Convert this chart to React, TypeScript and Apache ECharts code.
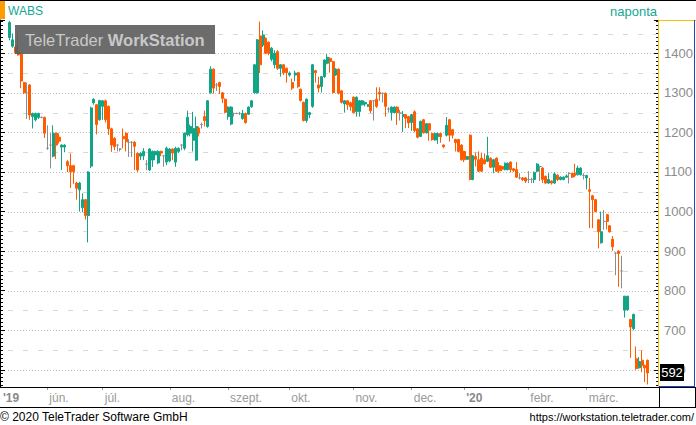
import React, { useEffect, useRef } from 'react';
import * as echarts from 'echarts';

// [open, close, low, high] per trading day, grouped by month
const MAY = [
  [1440, 1478, 1433, 1482], [1418, 1434, 1414, 1450], [1416, 1402, 1398, 1418], [1403, 1396, 1394, 1450],
  [1398, 1330, 1312, 1402], [1326, 1300, 1297, 1328], [1300, 1300, 1234, 1326], [1320, 1244, 1232, 1322],
  [1240, 1248, 1210, 1250], [1232, 1248, 1228, 1250], [1238, 1248, 1234, 1250], [1238, 1238, 1236, 1240],
  [1238, 1198, 1186, 1240],
];
const JUN = [
  [1160, 1160, 1156, 1218], [1168, 1168, 1109, 1198], [1140, 1198, 1137, 1218], [1198, 1168, 1133, 1200],
  [1188, 1178, 1172, 1198], [1163, 1168, 1105, 1170], [1163, 1168, 1150, 1170], [1126, 1116, 1100, 1130],
  [1116, 1101, 1060, 1147], [1116, 1101, 1070, 1118], [1072, 1059, 1030, 1075], [1055, 1072, 1000, 1075],
  [1010, 1030, 998, 1046], [1030, 990, 980, 1032], [990, 1100, 922, 1102], [1115, 1262, 1110, 1265],
  [1275, 1284, 1270, 1286], [1270, 1220, 1195, 1272], [1232, 1281, 1230, 1282],
];
const JUL = [
  [1266, 1280, 1232, 1282], [1280, 1232, 1225, 1283], [1266, 1209, 1194, 1268], [1209, 1168, 1151, 1212],
  [1185, 1164, 1155, 1188], [1168, 1168, 1152, 1170], [1158, 1158, 1152, 1160], [1190, 1184, 1160, 1210],
  [1198, 1177, 1152, 1200], [1175, 1175, 1138, 1183], [1175, 1175, 1138, 1178], [1175, 1165, 1105, 1178],
  [1147, 1105, 1100, 1150], [1140, 1147, 1130, 1150], [1141, 1152, 1130, 1160], [1120, 1120, 1105, 1130],
  [1105, 1158, 1103, 1160], [1130, 1152, 1113, 1154], [1143, 1152, 1130, 1154], [1123, 1152, 1120, 1155],
  [1152, 1148, 1140, 1154], [1141, 1141, 1113, 1143], [1125, 1160, 1117, 1164],
];
const AUG = [
  [1128, 1158, 1125, 1160], [1158, 1148, 1130, 1160], [1125, 1160, 1113, 1164], [1152, 1160, 1148, 1162],
  [1168, 1168, 1155, 1170], [1160, 1198, 1155, 1200], [1194, 1238, 1190, 1255], [1198, 1215, 1190, 1220],
  [1180, 1210, 1152, 1252], [1130, 1215, 1128, 1240], [1211, 1198, 1190, 1215], [1220, 1220, 1210, 1225],
  [1240, 1230, 1215, 1255], [1215, 1280, 1212, 1282], [1300, 1360, 1298, 1367], [1360, 1312, 1298, 1362],
  [1320, 1320, 1305, 1325], [1326, 1316, 1297, 1328], [1300, 1286, 1274, 1302], [1284, 1251, 1248, 1286],
];
const SEP = [
  [1240, 1264, 1232, 1266], [1221, 1264, 1218, 1266], [1248, 1248, 1240, 1250], [1248, 1248, 1246, 1250],
  [1248, 1248, 1244, 1252], [1235, 1248, 1232, 1257], [1248, 1225, 1222, 1250], [1246, 1264, 1244, 1266],
  [1265, 1280, 1262, 1282], [1300, 1371, 1298, 1373], [1300, 1434, 1298, 1436], [1444, 1371, 1350, 1480],
  [1421, 1446, 1416, 1458], [1438, 1400, 1398, 1440], [1428, 1400, 1395, 1430], [1385, 1413, 1380, 1416],
  [1371, 1400, 1362, 1408], [1404, 1362, 1358, 1408], [1362, 1371, 1341, 1373], [1371, 1351, 1345, 1373],
  [1362, 1351, 1326, 1364],
];
const OCT = [
  [1345, 1350, 1341, 1354], [1326, 1312, 1307, 1336], [1345, 1350, 1329, 1356], [1351, 1316, 1312, 1353],
  [1309, 1281, 1278, 1311], [1276, 1230, 1228, 1278], [1230, 1284, 1225, 1286], [1245, 1250, 1236, 1252],
  [1266, 1371, 1262, 1373], [1356, 1351, 1326, 1358], [1320, 1312, 1301, 1341], [1316, 1341, 1301, 1343],
  [1341, 1383, 1338, 1385], [1375, 1390, 1372, 1398], [1387, 1379, 1351, 1390], [1379, 1301, 1298, 1381],
  [1345, 1360, 1343, 1362], [1360, 1299, 1296, 1362], [1305, 1276, 1273, 1307], [1272, 1280, 1250, 1282],
  [1280, 1270, 1257, 1282], [1275, 1265, 1255, 1278],
];
const NOV = [
  [1289, 1250, 1248, 1291], [1253, 1289, 1240, 1291], [1253, 1280, 1240, 1282], [1270, 1280, 1268, 1282],
  [1272, 1276, 1266, 1278], [1266, 1270, 1264, 1272], [1280, 1255, 1249, 1282], [1280, 1280, 1230, 1282],
  [1284, 1266, 1262, 1314], [1301, 1297, 1280, 1314], [1299, 1299, 1276, 1300], [1299, 1266, 1240, 1301],
  [1259, 1259, 1250, 1264], [1250, 1264, 1230, 1266], [1250, 1264, 1248, 1266], [1264, 1250, 1219, 1266],
  [1249, 1249, 1230, 1257], [1240, 1245, 1201, 1254], [1245, 1236, 1211, 1247], [1240, 1224, 1211, 1242],
];
const DEC = [
  [1225, 1245, 1204, 1247], [1252, 1205, 1200, 1256], [1209, 1188, 1185, 1211], [1190, 1228, 1188, 1230],
  [1232, 1199, 1197, 1234], [1199, 1222, 1197, 1224], [1222, 1206, 1179, 1224], [1197, 1182, 1179, 1199],
  [1181, 1197, 1179, 1199], [1189, 1197, 1171, 1199], [1197, 1189, 1174, 1199], [1168, 1164, 1160, 1170],
  [1193, 1218, 1190, 1239], [1232, 1193, 1177, 1234], [1207, 1193, 1185, 1209], [1182, 1174, 1152, 1184],
  [1182, 1152, 1150, 1184], [1168, 1131, 1129, 1170],
];
const JAN = [
  [1152, 1131, 1125, 1154], [1132, 1139, 1131, 1141], [1193, 1081, 1079, 1195], [1081, 1141, 1079, 1143],
  [1139, 1132, 1114, 1149], [1131, 1102, 1100, 1152], [1135, 1102, 1100, 1149], [1131, 1121, 1119, 1147],
  [1127, 1141, 1125, 1189], [1135, 1112, 1110, 1137], [1112, 1131, 1097, 1133], [1135, 1102, 1100, 1137],
  [1116, 1103, 1097, 1125], [1114, 1107, 1102, 1116], [1106, 1122, 1104, 1124], [1106, 1122, 1104, 1124],
  [1125, 1106, 1099, 1127], [1108, 1104, 1100, 1110], [1106, 1087, 1085, 1125], [1085, 1085, 1081, 1097],
  [1085, 1081, 1077, 1087], [1085, 1077, 1072, 1087],
];
const FEB = [
  [1081, 1081, 1072, 1102], [1081, 1081, 1072, 1085], [1081, 1099, 1072, 1101], [1102, 1120, 1100, 1122],
  [1114, 1114, 1077, 1116], [1110, 1081, 1072, 1112], [1089, 1072, 1070, 1091], [1072, 1081, 1070, 1097],
  [1077, 1072, 1068, 1079], [1072, 1095, 1070, 1099], [1092, 1081, 1077, 1094], [1081, 1087, 1079, 1089],
  [1081, 1087, 1079, 1089], [1087, 1090, 1085, 1094], [1096, 1096, 1071, 1099], [1096, 1087, 1085, 1098],
  [1096, 1091, 1087, 1121], [1093, 1110, 1091, 1116], [1093, 1110, 1091, 1112], [1091, 1091, 1081, 1097],
];
const MAR = [
  [1085, 1091, 1056, 1093], [1055, 1051, 958, 1085], [1040, 1030, 958, 1042], [1030, 1000, 998, 1032],
  [979, 949, 907, 981], [921, 949, 919, 1000], [975, 975, 954, 1004], [992, 975, 955, 994],
  [964, 949, 947, 966], [930, 911, 901, 938], [895, 895, 839, 897], [900, 894, 810, 902],
  [850, 850, 806, 888], [751, 786, 732, 787], [752, 786, 749, 787], [727, 708, 630, 729],
  [704, 740, 700, 742], [628, 603, 600, 659], [605, 621, 603, 632], [624, 611, 594, 649],
  [611, 605, 569, 613], [624, 592, 563, 626],
];

const MONTH_DATA = [MAY, JUN, JUL, AUG, SEP, OCT, NOV, DEC, JAN, FEB, MAR];
const MONTH_LABELS = ["'19", 'jún.', 'júl.', 'aug.', 'szept.', 'okt.', 'nov.', 'dec.', "'20", 'febr.', 'márc.'];
const YEAR_LABELS = ["'19", "'20"];
const GRID_MAJOR = [600, 700, 800, 900, 1000, 1100, 1200, 1300, 1400];
const GRID_MINOR = [650, 750, 850, 950, 1050, 1150, 1250, 1350, 1450];
const Y_MIN = 556.5;
const Y_MAX = 1484.2;
const PAD_SLOTS = 3;
const LAST_PRICE = 592;
const SYMBOL = 'WABS';
const PERIOD = 'naponta';
const COPYRIGHT = '© 2020 TeleTrader Software GmbH';
const URL_TEXT = 'https://workstation.teletrader.com/';

const FONT = '"Liberation Sans", Arial, sans-serif';
const TEAL = '#11a487';
const ORANGE = '#ff5b00';
const DOJI = '#8c8c8c';
const TEAL_TEXT = '#14a693';

export default function App() {
  const ref = useRef<HTMLDivElement>(null);

  useEffect(() => {
    document.body.style.margin = '0';
    const chart = echarts.init(ref.current!, null, { renderer: 'svg' });

    const cats: string[] = [];
    const labelOf = new Map<string, string>();
    const candles: number[][] = [];
    MONTH_DATA.forEach((arr, m) => {
      arr.forEach((c, k) => {
        const id = `${m}-${k}`;
        cats.push(id);
        if (k === 0 && m > 0) labelOf.set(id, MONTH_LABELS[m]);
        candles.push(c);
      });
    });
    for (let p = 0; p < PAD_SLOTS; p++) cats.push(`pad-${p}`);

    const gridSeries = (values: number[], color: string, dash: number[]) => ({
      type: 'custom',
      silent: true,
      z: 1,
      clip: false,
      dimensions: ['x', 'y'],
      encode: { x: 0, y: 1 },
      data: values.map((v) => [0, v]),
      renderItem: (params: any, api: any) => {
        const y = Math.round(api.coord([0, api.value(1)])[1]) + 0.5;
        const cs = params.coordSys;
        return {
          type: 'line',
          shape: { x1: cs.x, y1: y, x2: cs.x + cs.width - 2, y2: y },
          style: { stroke: color, lineWidth: 1, lineDash: dash },
        };
      },
    });

    const isLabel = (_i: number, v: string) => labelOf.has(v);

    const option: any = {
      animation: false,
      grid: { left: 8, right: 37, top: 20, bottom: 38, containLabel: false },
      xAxis: {
        type: 'category',
        data: cats,
        boundaryGap: true,
        axisLine: { show: true, lineStyle: { color: '#000', width: 1 } },
        axisTick: { show: true, alignWithLabel: true, interval: isLabel, length: 3, lineStyle: { color: '#999' } },
        axisLabel: {
          interval: isLabel,
          align: 'left',
          margin: 5,
          formatter: (v: string) => {
            const t = labelOf.get(v) || '';
            return YEAR_LABELS.includes(t) ? `{y|${t}}` : `{m|${t}}`;
          },
          rich: {
            m: { fontSize: 12, color: '#9a9a9a', fontFamily: FONT, padding: [0, 0, 0, 2] },
            y: { fontSize: 12, fontWeight: 'bold', color: '#8a8a8a', fontFamily: FONT, padding: [0, 0, 0, 2] },
          },
        },
        splitLine: { show: false },
      },
      yAxis: [
        {
          type: 'value',
          position: 'right',
          min: Y_MIN,
          max: Y_MAX,
          splitNumber: 9,
          axisLine: { show: true, lineStyle: { color: '#f2c100', width: 1 } },
          axisTick: { show: true, inside: true, length: 4, lineStyle: { color: '#000' } },
          minorTick: { show: true, splitNumber: 10, length: 2, lineStyle: { color: '#000' } },
          axisLabel: {
            showMinLabel: false,
            showMaxLabel: false,
            formatter: (v: number) => String(v),
            color: '#8c8c8c',
            fontSize: 13,
            fontFamily: FONT,
            margin: 6,
          },
          splitLine: { show: false },
        },
        {
          type: 'value',
          position: 'left',
          offset: 8,
          min: Y_MIN,
          max: Y_MAX,
          splitNumber: 9,
          axisLine: { show: true, lineStyle: { color: '#000', width: 1 } },
          axisTick: { show: true, inside: true, length: 5, lineStyle: { color: '#000' } },
          minorTick: { show: true, splitNumber: 10, length: 3, lineStyle: { color: '#000' } },
          axisLabel: { show: false },
          splitLine: { show: false },
        },
      ],
      series: [
        gridSeries(GRID_MAJOR, '#bdbdbd', [1, 2]),
        gridSeries(GRID_MINOR, '#d8d8d8', [5, 10]),
        {
          type: 'candlestick',
          data: candles,
          barWidth: 2.5,
          z: 3,
          itemStyle: {
            color: TEAL,
            color0: ORANGE,
            borderColor: TEAL,
            borderColor0: ORANGE,
            borderColorDoji: DOJI,
            borderWidth: 1,
          },
        },
      ],
    };
    chart.setOption(option);

    const priceY = chart.convertToPixel({ yAxisIndex: 0 }, LAST_PRICE) as number;
    const Z = 100;
    chart.setOption({
      graphic: [
        { type: 'line', z: Z, shape: { x1: 0, y1: 0.5, x2: 696, y2: 0.5 }, style: { stroke: '#000', lineWidth: 1 } },
        { type: 'rect', z: Z, shape: { x: 0, y: 1, width: 5, height: 18 }, style: { fill: '#ff9c00' } },
        { type: 'text', z: Z, x: 8, y: 11, style: { text: SYMBOL, fill: TEAL_TEXT, fontSize: 12, fontFamily: FONT, align: 'left', verticalAlign: 'middle' } },
        { type: 'text', z: Z, x: 657, y: 11, style: { text: PERIOD, fill: TEAL_TEXT, fontSize: 13, fontFamily: FONT, align: 'right', verticalAlign: 'middle' } },
        { type: 'rect', z: Z, shape: { x: 15, y: 25, width: 200, height: 29 }, style: { fill: 'rgba(92,92,92,0.9)' } },
        {
          type: 'text', z: Z + 1, x: 25, y: 40,
          style: {
            text: '{a|TeleTrader }{b|WorkStation}',
            verticalAlign: 'middle',
            rich: {
              a: { fontSize: 16.5, fontFamily: FONT, fill: '#c8c8c8', color: '#c8c8c8' },
              b: { fontSize: 16.5, fontFamily: FONT, fontWeight: 'bold', fill: '#c8c8c8', color: '#c8c8c8' },
            },
          },
        },
        { type: 'line', z: Z, shape: { x1: 659, y1: 20.5, x2: 696, y2: 20.5 }, style: { stroke: '#f2c100', lineWidth: 1 } },
        { type: 'line', z: Z, shape: { x1: 694.5, y1: 20, x2: 694.5, y2: 387 }, style: { stroke: '#2244cc', lineWidth: 1 } },
        { type: 'line', z: Z, shape: { x1: 659, y1: 386.5, x2: 695, y2: 386.5 }, style: { stroke: '#2244cc', lineWidth: 1 } },
        { type: 'line', z: Z, shape: { x1: 0, y1: 387.5, x2: 696, y2: 387.5 }, style: { stroke: '#000', lineWidth: 1 } },
        { type: 'line', z: Z, shape: { x1: 0, y1: 407.5, x2: 696, y2: 407.5 }, style: { stroke: '#000', lineWidth: 1 } },
        { type: 'line', z: Z, shape: { x1: 659.5, y1: 388, x2: 659.5, y2: 407 }, style: { stroke: '#000', lineWidth: 1 } },
        { type: 'line', z: Z, shape: { x1: 695.5, y1: 388, x2: 695.5, y2: 407 }, style: { stroke: '#000', lineWidth: 1 } },
        { type: 'rect', z: Z, shape: { x: 660, y: Math.round(priceY) - 9, width: 24, height: 17 }, style: { fill: '#000' } },
        { type: 'text', z: Z + 1, x: 672, y: Math.round(priceY) - 0.5, style: { text: String(LAST_PRICE), fill: '#fff', fontSize: 13, fontFamily: FONT, align: 'center', verticalAlign: 'middle' } },
        { type: 'text', z: Z, x: 3, y: 398, style: { text: YEAR_LABELS[0], fill: '#8a8a8a', fontSize: 12, fontWeight: 'bold', fontFamily: FONT, align: 'left', verticalAlign: 'middle' } },
        { type: 'text', z: Z, x: 0, y: 416.5, style: { text: COPYRIGHT, fill: '#000', fontSize: 12, fontFamily: FONT, align: 'left', verticalAlign: 'middle' } },
        { type: 'text', z: Z, x: 694, y: 416.5, style: { text: URL_TEXT, fill: '#000', fontSize: 11, fontFamily: FONT, align: 'right', verticalAlign: 'middle' } },
      ],
    });

    return () => chart.dispose();
  }, []);

  return (
    <div
      ref={ref}
      style={{ position: 'absolute', left: 0, top: 0, width: 696, height: 425, background: '#fff' }}
    />
  );
}
